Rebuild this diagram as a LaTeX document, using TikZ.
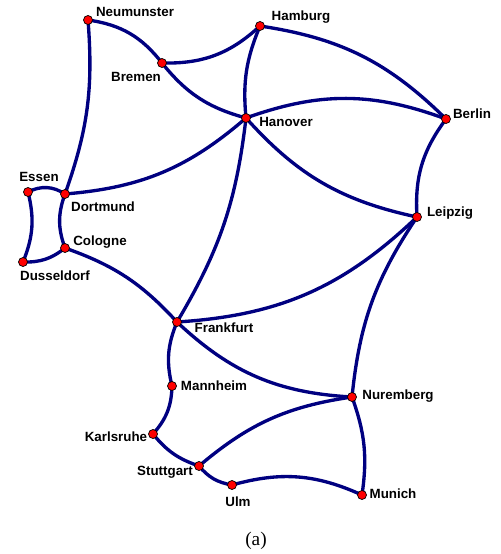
\documentclass[tikz,border=0pt]{standalone}
\usepackage{fontspec}
\setmainfont{Liberation Serif}
\newfontfamily\citysf{Liberation Sans}
\usetikzlibrary{calc,positioning}
\definecolor{linkblue}{RGB}{0,0,128}
\begin{document}
\begin{tikzpicture}[x=0.02cm,y=0.02cm]
    \tikzstyle{city}=[circle, inner sep=0pt, minimum size=0.18cm, fill=red, draw=black, line width=0.4pt]
    \tikzstyle{cityname}=[font=\citysf\bfseries\fontsize{7.6}{9}\selectfont, inner sep=0pt]
    \tikzstyle{link}=[draw=linkblue, line width=1.9pt]

    \useasboundingbox (0,0) rectangle (500,-554);

    % cities
    \coordinate (Neumunster) at (88,-20);
    \coordinate (Hamburg)    at (260,-26);
    \coordinate (Bremen)     at (162,-63);
    \coordinate (Hanover)    at (246,-118);
    \coordinate (Berlin)     at (446,-119);
    \coordinate (Essen)      at (28,-192);
    \coordinate (Dortmund)   at (65,-194);
    \coordinate (Leipzig)    at (417,-217);
    \coordinate (Cologne)    at (65,-248);
    \coordinate (Dusseldorf) at (23,-262);
    \coordinate (Frankfurt)  at (177,-322);
    \coordinate (Mannheim)   at (172,-386);
    \coordinate (Nuremberg)  at (352,-397);
    \coordinate (Karlsruhe)  at (153,-434);
    \coordinate (Stuttgart)  at (199,-466);
    \coordinate (Ulm)        at (232,-485);
    \coordinate (Munich)     at (362,-495);

    % links
    \draw[link] (Neumunster) to[bend left=22] (Bremen);
    \draw[link] (Neumunster) to[bend left=12] (Dortmund);
    \draw[link] (Bremen) to[bend right=22] (Hamburg);
    \draw[link] (Bremen) to[bend right=18] (Hanover);
    \draw[link] (Hamburg) to[bend right=14] (Hanover);
    \draw[link] (Hamburg) to[bend left=18] (Berlin);
    \draw[link] (Hanover) to[bend left=20] (Berlin);
    \draw[link] (Hanover) to[bend right=18] (Leipzig);
    \draw[link] (Hanover) to[bend left=18] (Dortmund);
    \draw[link] (Hanover) to[bend left=12] (Frankfurt);
    \draw[link] (Berlin) to[bend right=20] (Leipzig);
    \draw[link] (Essen) to[bend left=30] (Dortmund);
    \draw[link] (Essen) to[bend left=18] (Dusseldorf);
    \draw[link] (Dortmund) to[bend right=20] (Cologne);
    \draw[link] (Dusseldorf) to[bend right=20] (Cologne);
    \draw[link] (Cologne) to[bend left=14] (Frankfurt);
    \draw[link] (Leipzig) to[bend left=20] (Frankfurt);
    \draw[link] (Leipzig) to[bend right=14] (Nuremberg);
    \draw[link] (Frankfurt) to[bend right=18] (Mannheim);
    \draw[link] (Frankfurt) to[bend right=20] (Nuremberg);
    \draw[link] (Mannheim) to[bend left=20] (Karlsruhe);
    \draw[link] (Karlsruhe) to[bend right=16] (Stuttgart);
    \draw[link] (Stuttgart) to[bend left=16] (Nuremberg);
    \draw[link] (Stuttgart) to[bend right=20] (Ulm);
    \draw[link] (Ulm) to[bend left=20] (Munich);
    \draw[link] (Nuremberg) to[bend left=14] (Munich);

    % dots
    \foreach \c in {Neumunster,Hamburg,Bremen,Hanover,Berlin,Essen,Dortmund,Leipzig,
      Cologne,Dusseldorf,Frankfurt,Mannheim,Nuremberg,Karlsruhe,Stuttgart,Ulm,Munich}
      \node[city] (\c-dot) at (\c) {};

    % names
    \node[cityname] (Neumunster-name) at (135,-12)  {Neumunster};
    \node[cityname] (Hamburg-name)    at (301,-17)  {Hamburg};
    \node[cityname] (Bremen-name)     at (136,-77)  {Bremen};
    \node[cityname] (Hanover-name)    at (286,-122) {Hanover};
    \node[cityname] (Berlin-name)     at (472,-114) {Berlin};
    \node[cityname] (Leipzig-name)    at (450,-213) {Leipzig};
    \node[cityname] (Essen-name)      at (39,-177)  {Essen};
    \node[cityname] (Dortmund-name)   at (103,-207) {Dortmund};
    \node[cityname] (Cologne-name)    at (100,-242) {Cologne};
    \node[cityname] (Dusseldorf-name) at (55,-276)  {Dusseldorf};
    \node[cityname] (Frankfurt-name)  at (224,-328) {Frankfurt};
    \node[cityname] (Mannheim-name)   at (214,-386) {Mannheim};
    \node[cityname] (Nuremberg-name)  at (398,-396) {Nuremberg};
    \node[cityname] (Karlsruhe-name)  at (116,-437) {Karlsruhe};
    \node[cityname] (Stuttgart-name)  at (165,-472) {Stuttgart};
    \node[cityname] (Ulm-name)        at (238,-502) {Ulm};
    \node[cityname] (Munich-name)     at (393,-494) {Munich};

    \node[font=\fontsize{11}{13}\selectfont] (caption) at (256,-541) {(a)};
\end{tikzpicture}
\end{document}
